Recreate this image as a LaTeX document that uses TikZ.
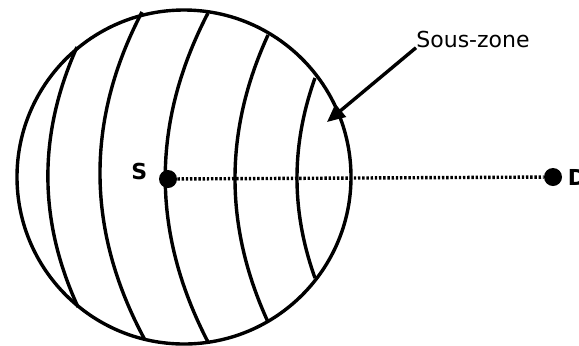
\documentclass[tikz,border=0pt]{standalone}
\usepackage{fontspec}
\setmainfont{DejaVu Sans}
\usepackage{tikz}
\usetikzlibrary{arrows.meta, positioning}
\tikzset{
  zone/.style={line width=1.7pt, draw=black},
  dot/.style={circle, fill=black, inner sep=0pt, minimum size=9pt},
  ptlabel/.style={font=\fontsize{11}{13}\selectfont\bfseries, inner sep=0pt},
  linkline/.style={line width=1.7pt, dash pattern=on 1.2pt off 0.9pt},
  sarrow/.style={-{Triangle[length=9pt, width=8pt]}, line width=1.7pt}
}

\begin{document}
\begin{tikzpicture}[x=0.5pt, y=-0.5pt]
  \useasboundingbox (0,0) rectangle (579,345);

  % zone and its sub-zones
  \draw[zone] (184,177) circle[radius=167];
  \draw[zone] (77,47) .. controls (38,134) and (38,220) .. (78,307);
  \draw[zone] (142,12) .. controls (85,121) and (86,231) .. (145,340);
  \draw[zone] (208,13) .. controls (151,123) and (151,232) .. (208,342);
  \draw[zone] (268,35) .. controls (224,131) and (224,226) .. (268,322);
  \draw[zone] (315,78) .. controls (291,145) and (291,211) .. (315,278);

  % source and destination
  \node[dot] (s) at (168,179) {};
  \node[dot] (d) at (553,177) {};
  \node[ptlabel, left=5.5pt of s, yshift=4pt] (slbl) {S};
  \node[ptlabel, right=2.5pt of d] (dlbl) {D};
  \draw[linkline] (s) -- (d);

  % label
  \node[font=\fontsize{11}{13}\selectfont, inner sep=0pt, anchor=base west] (souszone) at (416,47) {Sous-zone};
  \coordinate (tip) at (327,122);
  \draw[sarrow] (souszone.south west) -- (tip);
\end{tikzpicture}
\end{document}
